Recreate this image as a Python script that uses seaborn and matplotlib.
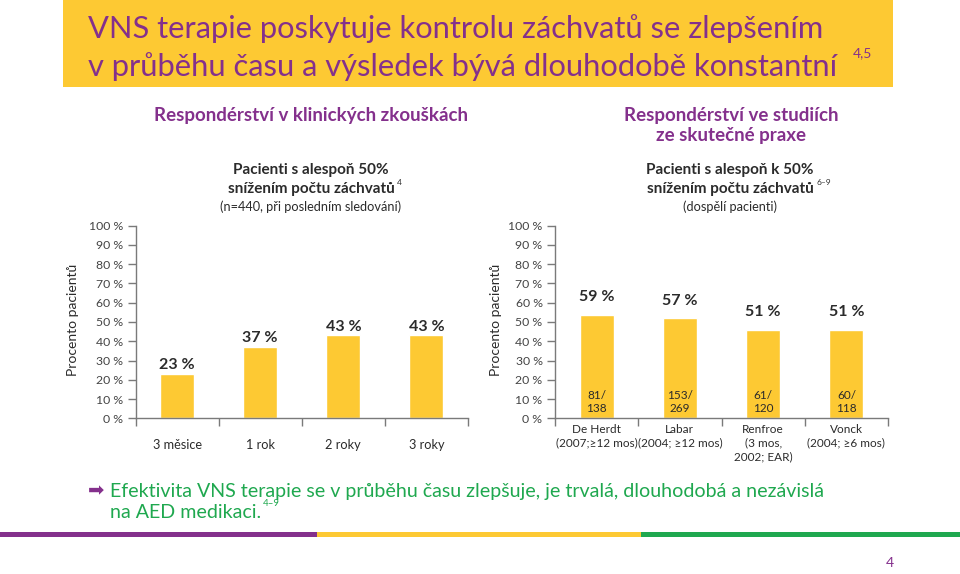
import matplotlib
matplotlib.use("Agg")
import matplotlib.pyplot as plt
import seaborn as sns
import pandas as pd

# data
trial_periods = ["3 měsice", "1 rok", "2 roky", "3 roky"]
trial_values = [23, 37, 43, 43]

study_names = ["De Herdt\n(2007;≥12 mos)", "Labar\n(2004; ≥12 mos)",
               "Renfroe\n(3 mos,\n2002; EAR)", "Vonck\n(2004; ≥6 mos)"]
study_values = [59, 57, 51, 51]          # printed percentages
study_bar_heights = [53.5, 51.9, 46, 46]  # bars as drawn on the slide
study_counts = ["81/\n138", "153/\n269", "61/\n120", "60/\n118"]

y_ticks = list(range(0, 101, 10))
y_tick_labels = [f"{v} %" for v in y_ticks]

YELLOW = "#FDC933"
PURPLE = "#84308C"
GREEN = "#1FA84F"
GREY = "#7a7a7a"
DARK = "#2b2b2b"

W, H = 960, 574

sns.set_style("white")
plt.rcParams["font.family"] = ["Lato", "DejaVu Sans"]


def fx(px):
    return px / W


def fy(py):
    return 1 - py / H


def style_axis(ax, labels, pad, labelsize):
    ax.set_xlim(-0.5, 3.5)
    ax.set_ylim(0, 100)
    ax.set_yticks(y_ticks, y_tick_labels)
    ax.set_xticks([-0.5, 0.5, 1.5, 2.5, 3.5], [""] * 5)
    ax.set_xticks(range(len(labels)), labels, minor=True)
    ax.tick_params(axis="x", which="major", direction="out", length=6,
                   width=1, color=GREY, bottom=True)
    ax.tick_params(axis="x", which="minor", length=0, pad=pad,
                   labelsize=labelsize, labelcolor=DARK)
    ax.tick_params(axis="y", direction="out", length=6, width=1, color=GREY,
                   left=True, labelsize=8.8, labelcolor="#444444", pad=3)
    for lab in ax.get_xticklabels(minor=True):
        lab.set_linespacing(1.3)
        lab.set_verticalalignment("top")
    sns.despine(ax=ax)
    for s in ("left", "bottom"):
        ax.spines[s].set_color(GREY)
        ax.spines[s].set_linewidth(1)
    ax.set_xlabel("")
    ax.set_ylabel("Procento pacientů", fontsize=10, color=DARK)


fig = plt.figure(figsize=(W / 100, H / 100), dpi=100)

# title banner
fig.add_artist(plt.Rectangle((fx(63), fy(87)), fx(893 - 63), 87 / H,
                             transform=fig.transFigure, color=YELLOW, lw=0))
fig.text(fx(88), fy(38), "VNS terapie poskytuje kontrolu záchvatů se zlepšením",
         fontsize=22.2, color=PURPLE, va="baseline")
fig.text(fx(88), fy(76), "v průběhu času a výsledek bývá dlouhodobě konstantní",
         fontsize=22.2, color=PURPLE, va="baseline")
fig.text(fx(853), fy(53), "4,5", fontsize=10, color=PURPLE, va="center")

# left chart
ax1 = fig.add_axes([fx(135.5), fy(418.3), fx(332.5), 192.6 / H])
df1 = pd.DataFrame({"period": trial_periods, "value": trial_values})
sns.barplot(data=df1, x="period", y="value", color=YELLOW, saturation=1,
            width=0.41, ax=ax1)
style_axis(ax1, trial_periods, pad=15, labelsize=9.2)
ax1.yaxis.set_label_coords(-0.17, 0.51)
for i, v in enumerate(trial_values):
    ax1.text(i, v + 1, f"{v} %", ha="center", va="bottom",
             fontsize=11.5, fontweight="bold", color=DARK)

# right chart
ax2 = fig.add_axes([fx(555), fy(418.3), fx(333), 192.6 / H])
df2 = pd.DataFrame({"study": study_names, "value": study_bar_heights})
sns.barplot(data=df2, x="study", y="value", color=YELLOW, saturation=1,
            width=0.41, ax=ax2)
style_axis(ax2, study_names, pad=4, labelsize=8.5)
ax2.yaxis.set_label_coords(-0.16, 0.51)
for i, (v, c) in enumerate(zip(study_values, study_counts)):
    ax2.text(i, v + 0.5, f"{v} %", ha="center", va="bottom",
             fontsize=11.5, fontweight="bold", color=DARK)
    ax2.text(i, 8.5, c, ha="center", va="center", fontsize=8.5,
             color=DARK, linespacing=1.2)

# section headers
fig.text(fx(311), fy(121), "Respondérství v klinických zkouškách",
         fontsize=13.5, fontweight="bold", color=PURPLE, ha="center", va="baseline")
fig.text(fx(731), fy(121), "Respondérství ve studiích",
         fontsize=13.5, fontweight="bold", color=PURPLE, ha="center", va="baseline")
fig.text(fx(731), fy(141), "ze skutečné praxe",
         fontsize=13.5, fontweight="bold", color=PURPLE, ha="center", va="baseline")


def group_header(xc, line1, line2, sup, line3):
    fig.text(fx(xc), fy(170), line1, fontsize=11, fontweight="bold",
             color=DARK, ha="center", va="center")
    t = fig.text(fx(xc), fy(189), line2, fontsize=11, fontweight="bold",
                 color=DARK, ha="center", va="center")
    fig.add_artist(plt.Annotation(sup, xy=(1, 1), xycoords=t,
                                  xytext=(2, -3), textcoords="offset points",
                                  fontsize=6, color=DARK, va="bottom"))
    fig.text(fx(xc), fy(207), line3, fontsize=9.2, color=DARK,
             ha="center", va="center")


group_header(311, "Pacienti s alespoň 50%", "snížením počtu záchvatů", "4",
             "(n=440, při posledním sledování)")
group_header(730, "Pacienti s alespoň k 50%", "snížením počtu záchvatů", "6–9",
             "(dospělí pacienti)")

# conclusion
fig.text(fx(88), fy(491), "➡", fontsize=14, color=PURPLE, va="center",
         family="DejaVu Sans")
fig.text(fx(110), fy(497),
         "Efektivita VNS terapie se v průběhu času zlepšuje, je trvalá, dlouhodobá a nezávislá",
         fontsize=14.1, color=GREEN, va="baseline")
t_end = fig.text(fx(110), fy(518), "na AED medikaci.", fontsize=14.1,
                 color=GREEN, va="baseline")
fig.add_artist(plt.Annotation("4–9", xy=(1, 1), xycoords=t_end,
                              xytext=(1, -3), textcoords="offset points",
                              fontsize=7, color=GREEN, va="bottom"))

# bottom stripe
for x0, x1, col in [(0, 317, PURPLE), (317, 641, YELLOW), (641, 960, GREEN)]:
    fig.add_artist(plt.Rectangle((fx(x0), fy(537)), fx(x1 - x0), 5 / H,
                                 transform=fig.transFigure, color=col, lw=0))

fig.text(fx(890), fy(563), "4", fontsize=10, color=PURPLE, ha="center", va="center")

fig.savefig("out.png", dpi=100)
plt.close(fig)
